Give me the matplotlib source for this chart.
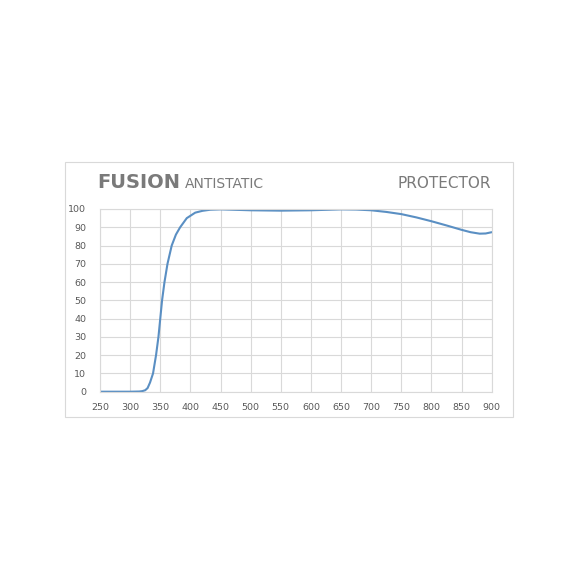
import matplotlib
matplotlib.use("Agg")
import matplotlib.pyplot as plt
from matplotlib.patches import Rectangle

wavelength = [250, 300, 315, 320, 325, 329, 333, 338, 343, 347, 350, 353, 357, 362,
              369, 376, 383, 394, 408, 420, 433, 450, 500, 550, 600, 650, 675, 700,
              725, 750, 775, 800, 825, 850, 865, 880, 890, 900]
transmission = [0, 0, 0.1, 0.3, 0.8, 2, 5, 10, 20, 30, 40, 50, 60, 70,
                80, 86, 90, 95, 98, 99, 99.6, 99.8, 99.3, 99.1, 99.3, 99.8, 99.7, 99.3,
                98.4, 97.2, 95.4, 93.3, 91, 88.6, 87.3, 86.5, 86.6, 87.3]
x_ticks = list(range(250, 901, 50))
y_ticks = list(range(0, 101, 10))
title_main = "FUSION"
title_sub = "ANTISTATIC"
title_right = "PROTECTOR"

W = H = 579
fig = plt.figure(figsize=(W / 100, H / 100), dpi=100)
fig.patch.set_facecolor("white")

# outer frame
fig.patches.append(Rectangle((64.5 / W, 1 - 416.5 / H), (513 - 64.5) / W, (416.5 - 162) / H,
                             transform=fig.transFigure, fill=False,
                             edgecolor="#d9d9d9", linewidth=0.8))

ax = fig.add_axes([100 / W, 1 - 391.7 / H, (491.7 - 100) / W, (391.7 - 209) / H])
ax.plot(wavelength, transmission, color="#5a8fc3", linewidth=1.5, solid_capstyle="round",
        solid_joinstyle="round")
ax.set_xlim(250, 900)
ax.set_ylim(0, 100)
ax.set_xticks(x_ticks)
ax.set_yticks(y_ticks)
ax.grid(True, color="#d9d9d9", linewidth=0.8)
ax.set_axisbelow(True)
for s in ax.spines.values():
    s.set_color("#d9d9d9")
    s.set_linewidth(0.8)
ax.tick_params(length=0, labelsize=6.8, labelcolor="#595959", pad=8)
ax.tick_params(axis="y", pad=10)

fig.text(97 / W, 1 - 187.5 / H, title_main, fontsize=14, fontweight="bold",
         color="#7a7a7a", ha="left", va="baseline")
fig.text(185 / W, 1 - 187.5 / H, title_sub, fontsize=10, color="#7a7a7a",
         ha="left", va="baseline")
fig.text(491 / W, 1 - 187.5 / H, title_right, fontsize=11, color="#7a7a7a",
         ha="right", va="baseline")

fig.savefig("out.png", dpi=100, facecolor="white")
